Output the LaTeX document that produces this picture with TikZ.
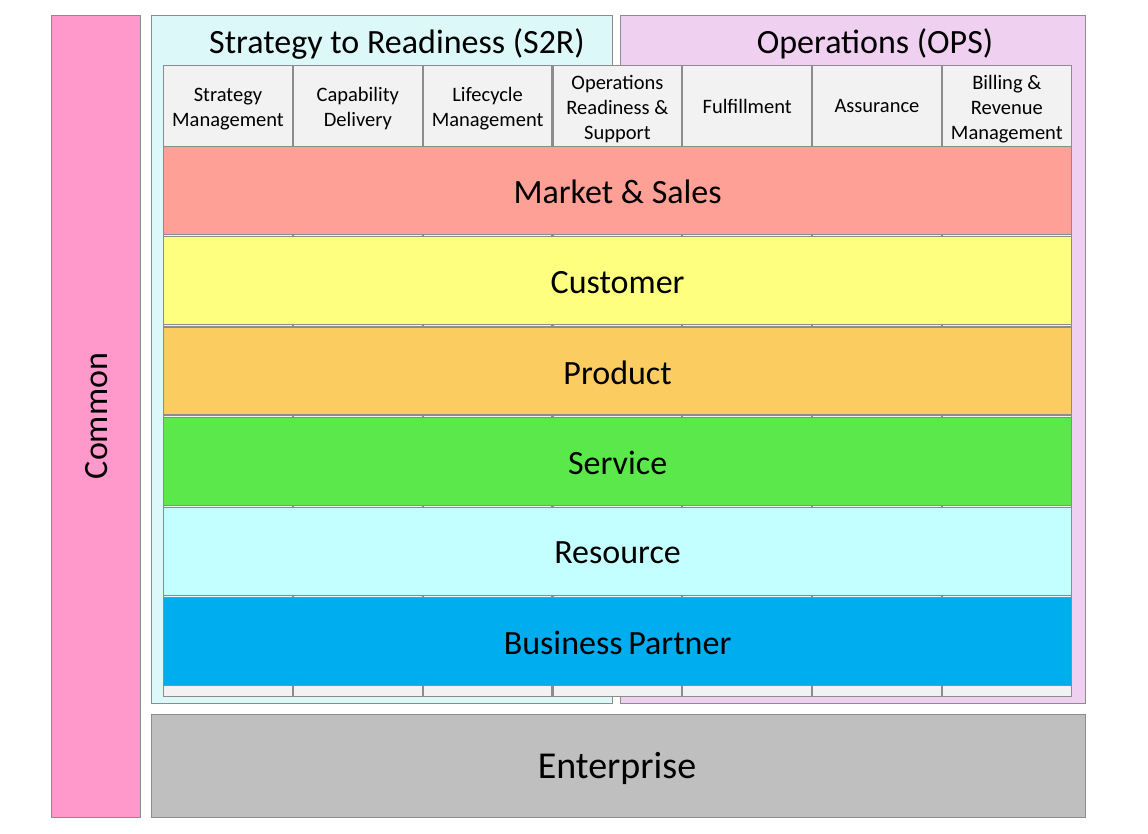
\documentclass[tikz,border=0pt]{standalone}
\usepackage{fontspec}
\setmainfont{Carlito}
\begin{document}
\begin{tikzpicture}[x=1pt,y=-1pt,
  box/.style={draw=edgegray,line width=1.2pt,rectangle,inner sep=0pt,anchor=north west},
  colcell/.style={box,fill=cellgray,minimum width=128.8pt,minimum height=631pt},
  headtxt/.style={font=\fontsize{20.5}{25}\selectfont,align=center,anchor=center},
  bigtxt/.style={font=\fontsize{34}{40}\selectfont},
  band/.style={box,minimum width=908pt,minimum height=88pt},
]
\definecolor{edgegray}{RGB}{140,140,140}
\definecolor{cellgray}{RGB}{242,242,242}
\definecolor{commonpink}{RGB}{255,153,204}
\definecolor{srbg}{RGB}{221,248,248}
\definecolor{opsbg}{RGB}{240,208,240}
\definecolor{entgray}{RGB}{191,191,191}
\definecolor{mktred}{RGB}{255,160,150}
\definecolor{custyellow}{RGB}{255,255,127}
\definecolor{prodorange}{RGB}{251,204,96}
\definecolor{servgreen}{RGB}{91,232,74}
\definecolor{rescyan}{RGB}{195,255,255}
\definecolor{bpblue}{RGB}{0,174,239}

\useasboundingbox (0,0) rectangle (1148,834);

% outer frames
\node[box,fill=commonpink,minimum width=89pt,minimum height=802pt] (common) at (51,15) {};
\node[rotate=90,bigtxt] (commontxt) at (97,416) {Common};
\node[box,fill=srbg,minimum width=461pt,minimum height=688pt] (s2r) at (151,15) {};
\node[box,fill=opsbg,minimum width=465pt,minimum height=688pt] (ops) at (620,15) {};
\node[box,fill=entgray,minimum width=934pt,minimum height=103pt] (ent) at (151,714) {};
\node[font=\fontsize{38}{44}\selectfont] (enttxt) at (617,768) {Enterprise};
\node[bigtxt] (s2rtitle) at (397,44) {Strategy to Readiness (S2R)};
\node[bigtxt] (opstitle) at (875,44) {Operations (OPS)};

% process columns
\foreach \i in {0,...,6} {
  \node[colcell] (col\i) at ({163+\i*129.8},65) {};
}
\node[headtxt] (h0) at (col0.north |- 0,109) {Strategy\\Management};
\node[headtxt] (h1) at (col1.north |- 0,109) {Capability\\Delivery};
\node[headtxt] (h2) at (col2.north |- 0,109) {Lifecycle\\Management};
\node[headtxt] (h3) at (col3.north |- 0,109) {Operations\\Readiness \&\\Support};
\node[headtxt] (h4) at (col4.north |- 0,106.5) {Fulfillment};
\node[headtxt] (h5) at (col5.north |- 0,106.5) {Assurance};
\node[headtxt] (h6) at (col6.north |- 0,109) {Billing \&\\Revenue\\Management};

% domain bands
\node[band,fill=mktred] (mkt) at (163,146) {};
\node[band,fill=custyellow] (cust) at (163,236.2) {};
\node[band,fill=prodorange] (prod) at (163,326.4) {};
\node[band,fill=servgreen] (serv) at (163,416.6) {};
\node[band,fill=rescyan] (res) at (163,506.8) {};
\node[band,fill=bpblue] (bp) at (163,597) {};
\foreach \n/\t in {mkt/Market \& Sales,cust/Customer,prod/Product,serv/Service,res/Resource,bp/Business\,Partner} {
  \node[bigtxt] (\n txt) at ([yshift=-1.5pt]\n.center) {\t};
}
\end{tikzpicture}
\end{document}
